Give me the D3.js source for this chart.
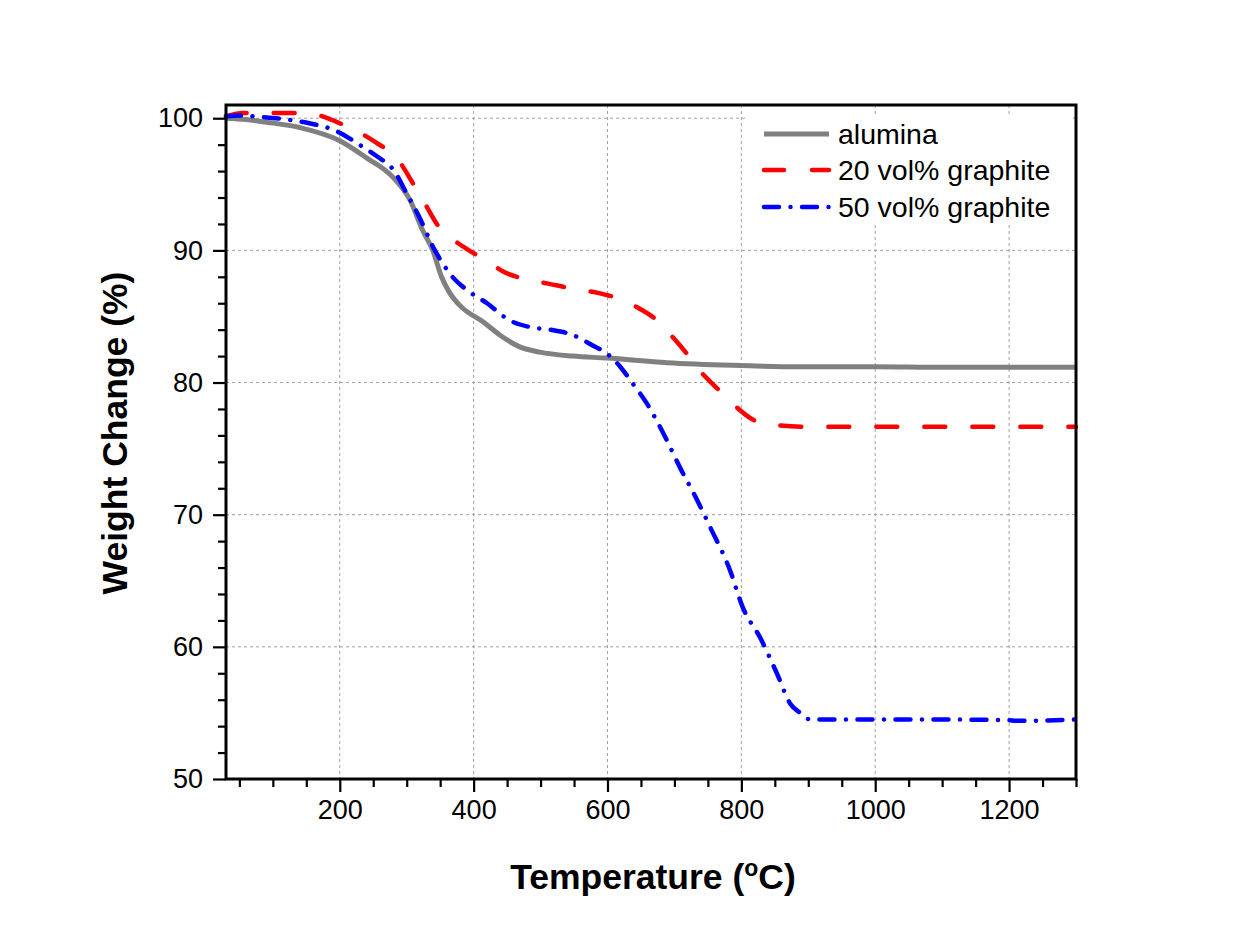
<!DOCTYPE html>
<html>
<head>
<meta charset="utf-8">
<script src="https://cdn.jsdelivr.net/npm/d3@7"></script>
<style>
  html, body { margin: 0; padding: 0; background: #fff; }
  svg { display: block; }
  text { font-family: "Liberation Sans", Arial, sans-serif; fill: #000; }
</style>
</head>
<body>
<svg id="chart" width="1245" height="930"></svg>
<script>
// ---- Data ----
const aluminaT = [30, 60, 91, 140, 200, 240, 280, 305, 324, 339, 352, 364, 380, 414, 439, 469, 499, 548, 599, 689, 787, 888, 1000, 1100, 1200, 1300];
const aluminaW = [100.0, 99.9, 99.7, 99.3, 98.3, 97.0, 95.5, 93.8, 91.5, 90.0, 88.0, 86.8, 85.8, 84.6, 83.6, 82.7, 82.3, 82.0, 81.85, 81.5, 81.3, 81.2, 81.2, 81.15, 81.15, 81.15];

const g20T = [30, 56, 98, 130, 170, 196, 230, 256, 285, 309, 330, 345, 365, 390, 420, 444, 480, 510, 548, 584, 619, 644, 674, 698, 723, 738, 763, 787, 817, 847, 903, 1000, 1100, 1200, 1300];
const g20W = [100.15, 100.4, 100.4, 100.4, 100.2, 99.7, 98.9, 98.1, 97.0, 95.1, 93.3, 92.0, 91.0, 90.1, 89.2, 88.4, 87.8, 87.5, 87.1, 86.8, 86.3, 85.7, 84.7, 83.4, 81.9, 80.9, 79.6, 78.4, 77.2, 76.8, 76.65, 76.65, 76.65, 76.65, 76.65];

const g50T = [30, 51, 81, 121, 156, 181, 200, 226, 256, 280, 300, 320, 339, 354, 370, 390, 420, 454, 484, 514, 548, 578, 599, 619, 638, 659, 683, 708, 734, 753, 783, 802, 828, 853, 873, 888, 903, 1000, 1100, 1200, 1210, 1300];
const g50W = [100.15, 100.2, 100.1, 99.9, 99.6, 99.3, 98.9, 98.1, 97.1, 96.1, 94.3, 92.4, 90.3, 89.0, 87.9, 87.0, 86.0, 84.7, 84.2, 84.0, 83.6, 82.8, 82.2, 81.2, 79.9, 78.4, 76.2, 73.6, 71.1, 69.1, 65.8, 63.0, 60.7, 58.0, 55.7, 55.0, 54.5, 54.5, 54.5, 54.45, 54.4, 54.5];

const seriesNames = ["alumina", "20 vol% graphite", "50 vol% graphite"];
const xTickValues = [200, 400, 600, 800, 1000, 1200];
const yTickValues = [50, 60, 70, 80, 90, 100];

// ---- Layout ----
const svg = d3.select("#chart");
const L = 226, R = 1076, T = 105, B = 779;

const x = d3.scaleLinear().domain([30, 1300]).range([L, R]);
const y = d3.scaleLinear().domain([50, 101]).range([B, T]);

// grid
const grid = svg.append("g");
grid.selectAll(".gx").data(xTickValues).enter().append("line")
  .attr("x1", d => x(d)).attr("x2", d => x(d)).attr("y1", T).attr("y2", B)
  .attr("stroke", "#a0a0a0").attr("stroke-width", 1).attr("stroke-dasharray", "3,3");
grid.selectAll(".gy").data(yTickValues.filter(v => v > 50)).enter().append("line")
  .attr("x1", L).attr("x2", R).attr("y1", d => y(d)).attr("y2", d => y(d))
  .attr("stroke", "#a0a0a0").attr("stroke-width", 1).attr("stroke-dasharray", "3,3");

// series
const styles = [
  { color: "#808080", width: 5, dash: null, cap: "butt" },
  { color: "#ff0000", width: 4.5, dash: "21,27", cap: "round" },
  { color: "#0000ff", width: 4.5, dash: "15,11.5,0.01,11.5", cap: "round" }
];
const dataSets = [
  aluminaT.map((t, i) => [t, aluminaW[i]]),
  g20T.map((t, i) => [t, g20W[i]]),
  g50T.map((t, i) => [t, g50W[i]])
];
const line = d3.line().x(d => x(d[0])).y(d => y(d[1])).curve(d3.curveMonotoneX);

const plot = svg.append("g");
dataSets.forEach((ds, i) => {
  const s = styles[i];
  const p = plot.append("path").datum(ds)
    .attr("d", line).attr("fill", "none")
    .attr("stroke", s.color).attr("stroke-width", s.width)
    .attr("stroke-linecap", s.cap).attr("stroke-linejoin", "round");
  if (s.dash) p.attr("stroke-dasharray", s.dash);
});

// legend
const lg = svg.append("g");
lg.append("rect").attr("x", 745).attr("y", 117).attr("width", 328).attr("height", 107).attr("fill", "#fff");
const rowY = [134, 170, 207];
seriesNames.forEach((name, i) => {
  const s = styles[i];
  const l = lg.append("line").attr("x1", 764).attr("x2", 829).attr("y1", rowY[i]).attr("y2", rowY[i])
    .attr("stroke", s.color).attr("stroke-width", s.width).attr("stroke-linecap", s.cap);
  if (i === 1) l.attr("stroke-dasharray", "20,28");
  if (i === 2) l.attr("stroke-dasharray", "15,11.5,0.01,11.5");
  lg.append("text").attr("x", 838).attr("y", rowY[i]).attr("dy", "0.36em")
    .attr("font-size", 28.5).text(name);
});

// axes
const xAxis = d3.axisBottom(x).tickValues(xTickValues).tickSize(13).tickPadding(8).tickFormat(d3.format("d"));
const xMinor = d3.axisBottom(x).tickValues(d3.range(50, 1301, 50).filter(v => v % 200 !== 0)).tickSize(8).tickFormat("");
const yAxis = d3.axisLeft(y).tickValues(yTickValues).tickSize(13).tickPadding(10).tickFormat(d3.format("d"));
const yMinor = d3.axisLeft(y).tickValues(d3.range(52, 101, 2).filter(v => v % 10 !== 0)).tickSize(8).tickFormat("");

function styleAxis(g) {
  g.select(".domain").remove();
  g.selectAll(".tick line").attr("stroke", "#000").attr("stroke-width", 2.2);
  g.selectAll(".tick text").attr("font-size", 27).attr("fill", "#000")
    .attr("font-family", "Liberation Sans, Arial, sans-serif");
}
svg.append("g").attr("transform", `translate(0,${B})`).call(xMinor).call(styleAxis);
svg.append("g").attr("transform", `translate(0,${B})`).call(xAxis).call(styleAxis);
svg.append("g").attr("transform", `translate(0,${B})`).selectAll("text").remove();
svg.append("g").attr("transform", `translate(${L},0)`).call(yMinor).call(styleAxis);
svg.append("g").attr("transform", `translate(${L},0)`).call(yAxis).call(styleAxis);

// frame
svg.append("rect").attr("x", L).attr("y", T).attr("width", R - L).attr("height", B - T)
  .attr("fill", "none").attr("stroke", "#000").attr("stroke-width", 3);

// axis titles
const xt = svg.append("text").attr("x", (L + R) / 2 + 2).attr("y", 889).attr("text-anchor", "middle")
  .attr("font-size", 35.5).attr("font-weight", "bold");
xt.append("tspan").text("Temperature (");
xt.append("tspan").attr("font-size", 23).attr("dy", -13).text("o");
xt.append("tspan").attr("dy", 13).text("C)");

svg.append("text").attr("transform", `translate(127,${(T + B) / 2 - 9}) rotate(-90)`)
  .attr("text-anchor", "middle").attr("font-size", 35.5).attr("font-weight", "bold")
  .text("Weight Change (%)");
</script>
</body>
</html>
